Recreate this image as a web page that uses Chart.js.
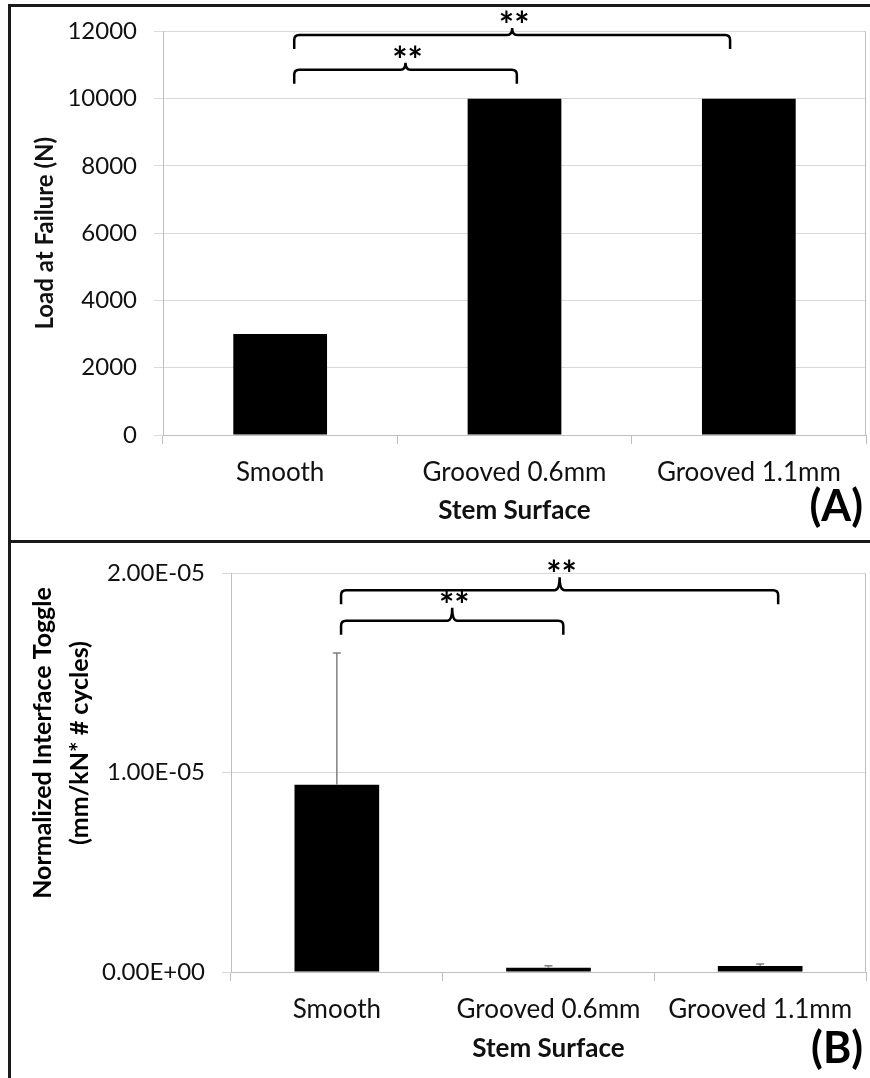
<!DOCTYPE html>
<html>
<head>
<meta charset="utf-8">
<script src="https://cdn.jsdelivr.net/npm/chart.js@4.4.1/dist/chart.umd.min.js"></script>
<style>
  html, body { margin: 0; padding: 0; background: #fff; }
  body { width: 870px; height: 1078px; position: relative; overflow: hidden; }
  canvas { position: absolute; left: 0; }
  .frame { position: absolute; background: #1a1a1a; }
</style>
</head>
<body>
<canvas id="chartA" width="870" height="542" style="top:0"></canvas>
<canvas id="chartB" width="870" height="536" style="top:542px"></canvas>
<div class="frame" style="left:8px;top:4px;width:3px;height:1074px"></div>
<div class="frame" style="left:8px;top:4px;width:862px;height:3px"></div>
<div class="frame" style="left:8px;top:540px;width:862px;height:3px"></div>
<script>
const categories = ['Smooth', 'Grooved 0.6mm', 'Grooved 1.1mm']

// (A) load at failure
const loadAtFailure = [3000, 10000, 10000]
const loadTickLabels = ['0', '2000', '4000', '6000', '8000', '10000', '12000']
// [from category, to category, bracket level]
const loadBrackets = [[0.06, 1.01, 10860], [0.06, 1.92, 11890]]

// (B) normalized interface toggle
const toggleMean = [9.4e-6, 2.1e-7, 3.0e-7]
const toggleError = [6.6e-6, 1.0e-7, 1.0e-7]
const toggleTickLabels = ['0.00E+00', '1.00E-05', '2.00E-05']
const toggleBrackets = [[0.02, 1.07, 1.763e-5], [0.02, 2.085, 1.916e-5]]
const toggleTitle = ['Normalized Interface Toggle', '(mm/kN* # cycles)']

const significance = '**'

Chart.defaults.font.family = 'Lato'
Chart.defaults.color = '#111'

const axisGray = '#bfbfbf'
const gridGray = '#d9d9d9'

function drawBrace(ctx, x1, x2, y, drop, rise) {
    const xm = (x1 + x2) / 2, r = 5
    ctx.beginPath()
    ctx.moveTo(x1, y + drop)
    ctx.lineTo(x1, y + r)
    ctx.quadraticCurveTo(x1, y, x1 + r, y)
    ctx.lineTo(xm - r, y)
    ctx.quadraticCurveTo(xm, y, xm, y - rise)
    ctx.quadraticCurveTo(xm, y, xm + r, y)
    ctx.lineTo(x2 - r, y)
    ctx.quadraticCurveTo(x2, y, x2, y + r)
    ctx.lineTo(x2, y + drop)
    ctx.stroke()
}

function overlay({ brackets, rise, means, errors, tag, yTitle }) {
    return {
        id: 'overlay',
        afterDatasetsDraw(chart) {
            const { ctx, chartArea, scales: { x, y } } = chart
            ctx.save()

            // plot area right edge
            ctx.strokeStyle = axisGray
            ctx.lineWidth = 1
            ctx.beginPath()
            ctx.moveTo(chartArea.right - 0.5, chartArea.top)
            ctx.lineTo(chartArea.right - 0.5, chartArea.bottom)
            ctx.stroke()

            // error bars (plus side)
            if (errors) {
                const bars = chart.getDatasetMeta(0).data
                ctx.strokeStyle = '#808080'
                ctx.lineWidth = 1.5
                errors.forEach((err, i) => {
                    const cx = bars[i].x
                    const top = y.getPixelForValue(means[i] + err)
                    ctx.beginPath()
                    ctx.moveTo(cx, y.getPixelForValue(means[i]))
                    ctx.lineTo(cx, top)
                    ctx.moveTo(cx - 4, top)
                    ctx.lineTo(cx + 4, top)
                    ctx.stroke()
                })
            }

            // significance brackets
            ctx.strokeStyle = '#000'
            ctx.fillStyle = '#000'
            ctx.lineWidth = 2.5
            ctx.font = 'bold 36px Lato'
            ctx.textAlign = 'center'
            ctx.textBaseline = 'alphabetic'
            brackets.forEach(([a, b, level]) => {
                const x1 = x.getPixelForValue(a), x2 = x.getPixelForValue(b)
                const yy = y.getPixelForValue(level)
                drawBrace(ctx, x1, x2, yy, 14, rise)
                ctx.fillText(significance, (x1 + x2) / 2 + 2, yy - rise + 10)
            })

            // rotated two-line axis title, set a little above the plot centre
            if (yTitle) {
                ctx.save()
                ctx.translate(43, 201)
                ctx.rotate(-Math.PI / 2)
                ctx.font = 'bold 25px Lato'
                ctx.textBaseline = 'middle'
                yTitle.forEach((line, i) => ctx.fillText(line, 0, i * 37))
                ctx.restore()
            }

            // panel tag
            ctx.font = 'bold 43px Lato'
            ctx.textAlign = 'right'
            ctx.fillText(tag, 863, 521)
            ctx.restore()
        }
    }
}

const yTickFont = { size: 24 }
const xTickFont = { size: 26 }
const xTitleFont = { size: 26, weight: 'bold' }

new Chart(document.getElementById('chartA'), {
    type: 'bar',
    data: {
        labels: categories,
        datasets: [{ data: loadAtFailure, backgroundColor: '#000', barPercentage: 0.4, categoryPercentage: 1 }],
    },
    options: {
        responsive: false,
        animation: false,
        layout: { padding: { top: 31, right: 4, bottom: 0, left: 0 } },
        plugins: { legend: { display: false }, tooltip: { enabled: false } },
        scales: {
            x: {
                grid: { drawOnChartArea: false, offset: true, tickLength: 9, color: axisGray },
                border: { color: axisGray },
                ticks: { font: xTickFont, padding: 13, maxRotation: 0 },
                title: { display: true, text: 'Stem Surface', font: xTitleFont, padding: { top: 0, bottom: 16 } },
                afterFit: s => { s.height = 107 },
            },
            y: {
                min: 0, max: 12000,
                ticks: { stepSize: 2000, font: yTickFont, padding: 17, callback: (v, i) => loadTickLabels[i] },
                grid: { color: gridGray, tickLength: 9 },
                border: { color: axisGray },
                title: { display: true, text: 'Load at Failure (N)', font: { size: 24, weight: 'bold' }, padding: { top: 31, bottom: 0 } },
                afterFit: s => { s.width = 163 },
            },
        },
    },
    plugins: [overlay({ brackets: loadBrackets, rise: 7, tag: '(A)' })],
})

new Chart(document.getElementById('chartB'), {
    type: 'bar',
    data: {
        labels: categories,
        datasets: [{ data: toggleMean, backgroundColor: '#000', barPercentage: 0.4, categoryPercentage: 1 }],
    },
    options: {
        responsive: false,
        animation: false,
        layout: { padding: { top: 25, right: 4, bottom: 0, left: 0 } },
        plugins: { legend: { display: false }, tooltip: { enabled: false } },
        scales: {
            x: {
                grid: { drawOnChartArea: false, offset: true, tickLength: 9, color: axisGray },
                border: { color: axisGray },
                ticks: { font: xTickFont, padding: 13, maxRotation: 0 },
                title: { display: true, text: 'Stem Surface', font: xTitleFont, padding: { top: 0, bottom: 14 } },
                afterFit: s => { s.height = 106 },
            },
            y: {
                min: 0, max: 2e-5,
                ticks: { stepSize: 1e-5, font: yTickFont, padding: 17, callback: (v, i) => toggleTickLabels[i] },
                grid: { color: gridGray, tickLength: 9 },
                border: { color: axisGray },
                afterFit: s => { s.width = 231 },
            },
        },
    },
    plugins: [overlay({ brackets: toggleBrackets, rise: 13, means: toggleMean, errors: toggleError, tag: '(B)', yTitle: toggleTitle })],
})
</script>
</body>
</html>
